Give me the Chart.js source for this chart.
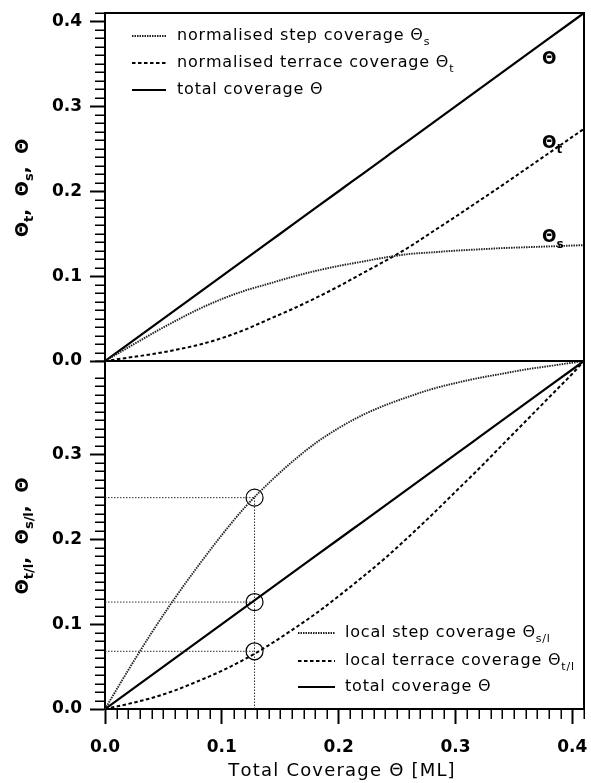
<!DOCTYPE html>
<html>
<head>
<meta charset="utf-8">
<script src="https://cdn.jsdelivr.net/npm/chart.js@4.4.1/dist/chart.umd.min.js"></script>
<style>
  html, body { margin: 0; padding: 0; background: #fff; }
  canvas { display: block; }
</style>
</head>
<body>
<canvas id="chart" width="591" height="783"></canvas>
<script>
// total coverage Θ [ML] along the x axis
const coverage = [0, 0.02, 0.04, 0.06, 0.08, 0.10, 0.12, 0.14, 0.16, 0.18, 0.20,
                  0.22, 0.24, 0.26, 0.28, 0.30, 0.32, 0.34, 0.36, 0.38, 0.40, 0.41];
const totalCoverage = [0, 0.02, 0.04, 0.06, 0.08, 0.10, 0.12, 0.14, 0.16, 0.18, 0.20,
                       0.22, 0.24, 0.26, 0.28, 0.30, 0.32, 0.34, 0.36, 0.38, 0.40, 0.41];
// top panel
const stepCoverage = [0, 0.016, 0.032, 0.047, 0.061, 0.073, 0.083, 0.091, 0.099, 0.106, 0.112,
                      0.117, 0.122, 0.126, 0.128, 0.130, 0.1315, 0.133, 0.134, 0.135, 0.136, 0.1365];
const terraceCoverage = [0, 0.004, 0.008, 0.013, 0.019, 0.027, 0.037, 0.049, 0.061, 0.074, 0.088,
                         0.103, 0.118, 0.134, 0.152, 0.170, 0.1885, 0.207, 0.226, 0.245, 0.264, 0.2735];
// bottom panel
const localStepCoverage = [0, 0.046, 0.090, 0.131, 0.169, 0.205, 0.238, 0.266, 0.291, 0.313, 0.331,
                           0.346, 0.358, 0.368, 0.377, 0.384, 0.390, 0.395, 0.400, 0.404, 0.408, 0.41];
const localTerraceCoverage = [0, 0.006, 0.013, 0.022, 0.033, 0.045, 0.059, 0.075, 0.093, 0.112, 0.133,
                              0.155, 0.178, 0.203, 0.229, 0.256, 0.283, 0.311, 0.339, 0.367, 0.395, 0.41];
// marked point (circles + drop lines)
const markedCoverage = 0.128;
const markedValues = [0.249, 0.126, 0.068];

const xTicks = [0, 0.1, 0.2, 0.3, 0.4];
const yTicksTop = [0, 0.1, 0.2, 0.3, 0.4];
const yTicksBottom = [0, 0.1, 0.2, 0.3];
const axisMax = 0.41;

const FONT = '"DejaVu Sans", Verdana, sans-serif';
const pts = (xs, ys) => xs.map((x, i) => ({ x: x, y: ys[i] }));

const DOTTED = { borderDash: [1.5, 1], borderWidth: 1.9, borderColor: '#222' };
const DASHED = { borderDash: [3.5, 2.5], borderWidth: 2, borderColor: '#000' };
const SOLID = { borderDash: [], borderWidth: 2.2, borderColor: '#000' };

function curve(data, yAxisID, style) {
  return Object.assign({
    data: data, yAxisID: yAxisID, pointRadius: 0, fill: false,
    cubicInterpolationMode: 'monotone'
  }, style);
}

const dropStyle = { borderDash: [1.5, 1.5], borderWidth: 1, borderColor: '#333', pointRadius: 0, fill: false };

const datasets = [
  curve(pts(coverage, stepCoverage), 'yTop', DOTTED),
  curve(pts(coverage, terraceCoverage), 'yTop', DASHED),
  curve(pts(coverage, totalCoverage), 'yTop', SOLID),
  curve(pts(coverage, localStepCoverage), 'yBot', DOTTED),
  curve(pts(coverage, localTerraceCoverage), 'yBot', DASHED),
  curve(pts(coverage, totalCoverage), 'yBot', SOLID),
  {
    type: 'scatter', yAxisID: 'yBot',
    data: markedValues.map(v => ({ x: markedCoverage, y: v })),
    pointStyle: 'circle', pointRadius: 8.5, pointBorderWidth: 1.2,
    pointBorderColor: '#000', pointBackgroundColor: 'rgba(0,0,0,0)'
  }
];
markedValues.forEach(v => {
  datasets.push(Object.assign({ yAxisID: 'yBot', data: [{ x: 0, y: v }, { x: markedCoverage, y: v }] }, dropStyle));
});
datasets.push(Object.assign({ yAxisID: 'yBot',
  data: [{ x: markedCoverage, y: 0 }, { x: markedCoverage, y: Math.max(...markedValues) }] }, dropStyle));

// text with subscripts, drawn char by char with extra spacing: parts = [[text, isSub], ...]
function drawRich(ctx, parts, x, y, size, weight, align, spacing) {
  spacing = spacing || 0;
  const main = weight + ' ' + size + 'px ' + FONT;
  const sub = weight + ' ' + Math.round(size * 0.7) + 'px ' + FONT;
  const glyphs = [];
  parts.forEach(p => {
    ctx.font = p[1] ? sub : main;
    Array.from(p[0]).forEach(c => glyphs.push({ c: c, sub: p[1], w: ctx.measureText(c).width }));
  });
  const total = glyphs.reduce((s, g) => s + g.w, 0) + spacing * (glyphs.length - 1);
  let cx = align === 'center' ? x - total / 2 : x;
  ctx.textAlign = 'left';
  ctx.textBaseline = 'middle';
  glyphs.forEach(g => {
    ctx.font = g.sub ? sub : main;
    ctx.fillText(g.c, cx, g.sub ? y + size * 0.38 : y);
    cx += g.w + spacing;
  });
}

const topLegend = [
  { style: DOTTED, parts: [['normalised step coverage Θ', 0], ['s', 1]] },
  { style: DASHED, parts: [['normalised terrace coverage Θ', 0], ['t', 1]] },
  { style: SOLID, parts: [['total coverage Θ', 0]] }
];
const bottomLegend = [
  { style: DOTTED, parts: [['local step coverage Θ', 0], ['s/l', 1]] },
  { style: DASHED, parts: [['local terrace coverage Θ', 0], ['t/l', 1]] },
  { style: SOLID, parts: [['total coverage Θ', 0]] }
];
const curveLabels = [
  { parts: [['Θ', 0]], x: 0.374, y: 0.355 },
  { parts: [['Θ', 0], ['t', 1]], x: 0.374, y: 0.256 },
  { parts: [['Θ', 0], ['s', 1]], x: 0.374, y: 0.145 }
];

const decorations = {
  id: 'decorations',
  afterDraw(chart) {
    const { ctx, chartArea: a, scales } = chart;
    const xs = scales.x, yt = scales.yTop, yb = scales.yBot;
    ctx.save();
    // frame and panel separator
    ctx.strokeStyle = '#000';
    ctx.lineWidth = 2;
    ctx.beginPath();
    ctx.moveTo(a.left, a.top); ctx.lineTo(a.right, a.top); ctx.lineTo(a.right, a.bottom);
    ctx.moveTo(a.left, yt.bottom); ctx.lineTo(a.right, yt.bottom);
    ctx.stroke();
    // minor ticks every 0.01
    ctx.lineWidth = 1.5;
    ctx.beginPath();
    for (let i = 1; i <= 41; i++) {
      if (i % 10 === 0) continue;
      const v = i / 100;
      const px = Math.round(xs.getPixelForValue(v)) + 0.25;
      ctx.moveTo(px, a.bottom); ctx.lineTo(px, a.bottom + 10);
      [yt, yb].forEach(s => {
        const py = Math.round(s.getPixelForValue(v)) + 0.25;
        ctx.moveTo(a.left, py); ctx.lineTo(a.left - 10, py);
      });
    }
    ctx.stroke();

    // legends
    ctx.fillStyle = '#000';
    const drawLegend = (items, sx0, sx1, tx, ys) => {
      items.forEach((it, i) => {
        ctx.save();
        ctx.strokeStyle = it.style.borderColor;
        ctx.lineWidth = it.style.borderWidth;
        ctx.setLineDash(it.style.borderDash);
        ctx.beginPath(); ctx.moveTo(sx0, ys[i]); ctx.lineTo(sx1, ys[i]); ctx.stroke();
        ctx.restore();
        drawRich(ctx, it.parts, tx, ys[i], 16, 'normal', 'left', 0.8);
      });
    };
    drawLegend(topLegend, a.left + 27, a.left + 61, a.left + 72, [a.top + 23, a.top + 50, a.top + 77]);
    drawLegend(bottomLegend, a.left + 193, a.left + 230, a.left + 240, [a.bottom - 76, a.bottom - 48, a.bottom - 22]);

    // curve labels in the top panel
    curveLabels.forEach(l => {
      drawRich(ctx, l.parts, xs.getPixelForValue(l.x), yt.getPixelForValue(l.y), 17, 'bold', 'left', 0);
    });

    // rotated y titles
    const yTitle = (parts, s) => {
      ctx.save();
      ctx.translate(23, (s.top + s.bottom) / 2 + 1);
      ctx.rotate(-Math.PI / 2);
      drawRich(ctx, parts, 0, 0, 18, 'bold', 'center', 0);
      ctx.restore();
    };
    yTitle([['Θ', 0], ['t', 1], [',  Θ', 0], ['s', 1], [',  Θ', 0]], yt);
    yTitle([['Θ', 0], ['t/l', 1], [',  Θ', 0], ['s/l', 1], [',  Θ', 0]], yb);

    // x title
    drawRich(ctx, [['Total Coverage Θ [ML]', 0]], (a.left + a.right) / 2 - 3, 771, 18, 'normal', 'center', 1.2);
    ctx.restore();
  }
};

function noPadding(s) {
  s.paddingTop = 0; s.paddingBottom = 0; s.paddingLeft = 0; s.paddingRight = 0;
}

function yScale(ticks) {
  return {
    type: 'linear', position: 'left', stack: 'panels', stackWeight: 1,
    min: 0, max: axisMax,
    afterBuildTicks: s => { s.ticks = ticks.map(v => ({ value: v })); },
    afterFit: s => { s.width = 105; noPadding(s); },
    ticks: {
      callback: v => v.toFixed(1), color: '#000', padding: 8,
      font: { family: FONT, size: 17, weight: 'bold' }
    },
    grid: { drawOnChartArea: false, tickLength: 15, tickWidth: 2, tickColor: '#000' },
    border: { display: true, width: 2, color: '#000' }
  };
}

new Chart(document.getElementById('chart'), {
  type: 'line',
  data: { datasets: datasets },
  options: {
    responsive: false,
    devicePixelRatio: 1,
    animation: false,
    events: [],
    layout: { padding: { top: 13, right: 7, left: 0, bottom: 0 }, autoPadding: false },
    plugins: { legend: { display: false }, tooltip: { enabled: false } },
    scales: {
      x: {
        type: 'linear', min: 0, max: axisMax,
        afterBuildTicks: s => { s.ticks = xTicks.map(v => ({ value: v })); },
        afterFit: s => { s.height = 74; noPadding(s); },
        ticks: {
          callback: v => v.toFixed(1), color: '#000', padding: 13, maxRotation: 0,
          font: { family: FONT, size: 17, weight: 'bold' }
        },
        grid: { drawOnChartArea: false, tickLength: 15, tickWidth: 2, tickColor: '#000' },
        border: { display: true, width: 2, color: '#000' },
        title: { display: false }
      },
      yBot: yScale(yTicksBottom),
      yTop: yScale(yTicksTop)
    }
  },
  plugins: [decorations]
});
</script>
</body>
</html>
